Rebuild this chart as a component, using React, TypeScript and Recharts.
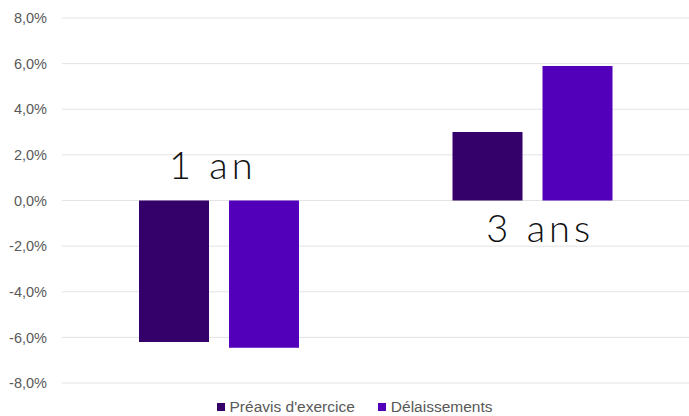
import React from 'react';
import { BarChart, Bar, XAxis, YAxis, CartesianGrid, Legend, ReferenceDot } from 'recharts';

const categories = ['1 an', '3 ans'];
const preavis = [-6.2, 3.0];
const delaissements = [-6.45, 5.9];
const yTicks = [-8, -6, -4, -2, 0, 2, 4, 6, 8];
const seriesNames = ["Préavis d'exercice", 'Délaissements'];
const colors = ['#34006A', '#5300BA'];

const data = categories.map((c, i) => ({ cat: c, p: preavis[i], d: delaissements[i] }));

const fmt = (v: number) => v.toFixed(1).replace('.', ',') + '%';

const LegendContent = () => (
  <div style={{ display: 'flex', justifyContent: 'center', alignItems: 'center', fontFamily: '"Liberation Sans", Arial, sans-serif', fontSize: 15.5, color: '#595959', paddingLeft: 20, paddingTop: 15 }}>
    {seriesNames.map((n, i) => (
      <span key={n} style={{ display: 'inline-flex', alignItems: 'center', marginRight: i === 0 ? 23 : 0 }}>
        <span style={{ display: 'inline-block', width: 8, height: 8, background: colors[i], marginRight: 5 }} />
        {n}
      </span>
    ))}
  </div>
);

const makeLabel = (text: string, above: boolean) => (props: any) => {
  const vb = props.viewBox || {};
  const x = vb.x + (vb.width || 0) / 2;
  const y = vb.y + (vb.height || 0) / 2;
  return (
    <text
      x={x}
      y={y}
      dx={above ? -6 : 8}
      dy={above ? -22 : 41}
      textAnchor="middle"
      fontFamily="Lato, sans-serif"
      fontWeight={300}
      fontSize={38}
      letterSpacing={4}
      fill="#111"
    >
      {text}
    </text>
  );
};

export default function App() {
  return (
    <div style={{ position: 'absolute', left: 0, top: 0 }}>
      <BarChart width={689} height={416} data={data} margin={{ top: 18, right: 0, left: 0, bottom: 0 }} barSize={70} barGap={20}>
        <CartesianGrid vertical={false} stroke="#e3e3e3" />
        <XAxis dataKey="cat" hide />
        <YAxis
          domain={[-8, 8]}
          ticks={yTicks}
          tickFormatter={fmt}
          width={62}
          axisLine={false}
          tickLine={false}
          tickSize={0}
          tickMargin={15}
          tick={{ fill: '#595959', fontSize: 14.5, fontFamily: '"Liberation Sans", Arial, sans-serif' }}
        />
        <Legend verticalAlign="bottom" height={33} content={<LegendContent />} />
        <Bar dataKey="p" name={seriesNames[0]} fill={colors[0]} isAnimationActive={false} />
        <Bar dataKey="d" name={seriesNames[1]} fill={colors[1]} isAnimationActive={false} />
        {categories.map((c, i) => (
          <ReferenceDot
            key={c}
            x={c}
            y={0}
            r={0}
            fill="none"
            stroke="none"
            label={makeLabel(c, preavis[i] < 0)}
          />
        ))}
      </BarChart>
    </div>
  );
}
